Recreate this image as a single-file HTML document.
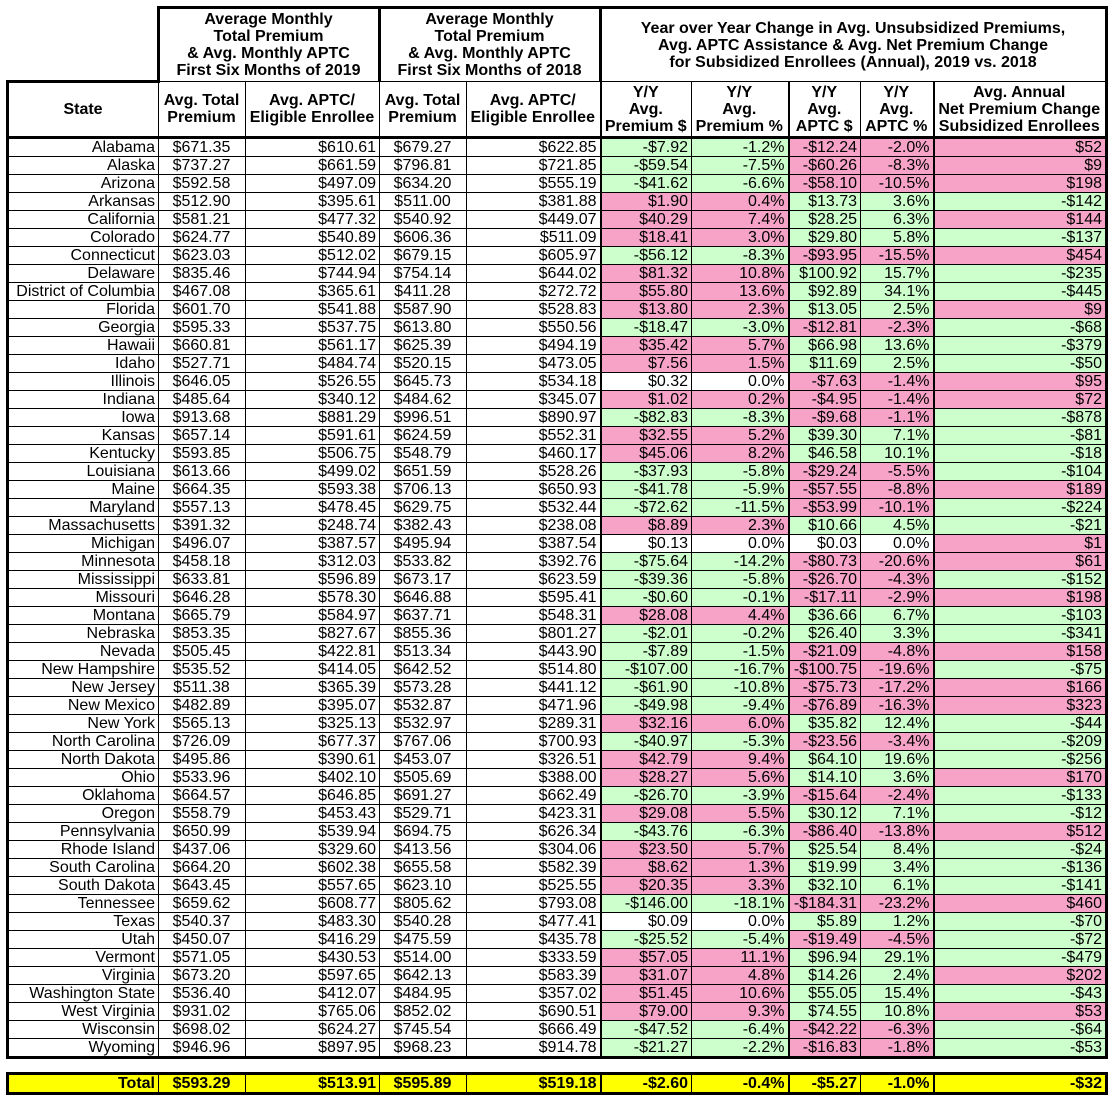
<!DOCTYPE html>
<html><head><meta charset="utf-8">
<style>
body{margin:0;width:1110px;height:1102px;background:#fff;overflow:hidden;font-family:"Liberation Sans",Arial,sans-serif;}
table{position:absolute;left:6px;border-collapse:collapse;table-layout:fixed;}
td{border:1px solid #000;padding:0 3px 0 2px;font-size:16px;line-height:17px;height:17px;white-space:nowrap;overflow:hidden;text-align:right;color:#000;}
td:nth-child(2),td:nth-child(4){text-align:center;}
.h td{font-weight:bold;text-align:center;line-height:17px;}
.h1 td{height:72px;border-top:3px solid #000;border-left:3px solid #000;border-right:3px solid #000;}
.h1 td.e{border:none;border-bottom:3px solid #000;}
.h2 td{height:53px;border-bottom:3px solid #000;}
td.L{border-left:2px solid #000}
tr td:nth-child(6),tr td:nth-child(8),tr td:nth-child(10){border-left:2px solid #000}
tr td:nth-child(1){border-left:3px solid #000}
tr td:nth-child(10){border-right:3px solid #000}
.last td{border-bottom:3px solid #000}
.pG td:nth-child(6),.pG td:nth-child(7){background:#ccffcc}
.pP td:nth-child(6),.pP td:nth-child(7){background:#f7a3c7}
.aG td:nth-child(8),.aG td:nth-child(9){background:#ccffcc}
.aP td:nth-child(8),.aP td:nth-child(9){background:#f7a3c7}
.nG td:nth-child(10){background:#ccffcc}
.nP td:nth-child(10){background:#f7a3c7}
.tot td{background:#ffff00;font-weight:bold;border-top:3px solid #000;border-bottom:3px solid #000;height:16px;}
</style></head><body>
<table style="top:6px">
<colgroup><col style="width:151px"><col style="width:87px"><col style="width:134px"><col style="width:87px"><col style="width:134px"><col style="width:91px"><col style="width:97px"><col style="width:72px"><col style="width:73px"><col style="width:173px"></colgroup>
<tr class="h h1"><td class="e"></td><td colspan="2">Average Monthly<br>Total Premium<br>&amp; Avg. Monthly APTC<br>First Six Months of 2019</td><td colspan="2">Average Monthly<br>Total Premium<br>&amp; Avg. Monthly APTC<br>First Six Months of 2018</td><td colspan="5">Year over Year Change in Avg. Unsubsidized Premiums,<br>Avg. APTC Assistance &amp; Avg. Net Premium Change<br>for Subsidized Enrollees (Annual), 2019 vs. 2018</td></tr>
<tr class="h h2"><td>State</td><td>Avg. Total<br>Premium</td><td>Avg. APTC/<br>Eligible Enrollee</td><td>Avg. Total<br>Premium</td><td>Avg. APTC/<br>Eligible Enrollee</td><td>Y/Y<br>Avg.<br>Premium $</td><td>Y/Y<br>Avg.<br>Premium %</td><td>Y/Y<br>Avg.<br>APTC $</td><td>Y/Y<br>Avg.<br>APTC %</td><td>Avg. Annual<br>Net Premium Change<br>Subsidized Enrollees</td></tr>
<tr class="pG aP nP"><td>Alabama</td><td>$671.35</td><td>$610.61</td><td>$679.27</td><td>$622.85</td><td>-$7.92</td><td>-1.2%</td><td>-$12.24</td><td>-2.0%</td><td>$52</td></tr>
<tr class="pG aP nP"><td>Alaska</td><td>$737.27</td><td>$661.59</td><td>$796.81</td><td>$721.85</td><td>-$59.54</td><td>-7.5%</td><td>-$60.26</td><td>-8.3%</td><td>$9</td></tr>
<tr class="pG aP nP"><td>Arizona</td><td>$592.58</td><td>$497.09</td><td>$634.20</td><td>$555.19</td><td>-$41.62</td><td>-6.6%</td><td>-$58.10</td><td>-10.5%</td><td>$198</td></tr>
<tr class="pP aG nG"><td>Arkansas</td><td>$512.90</td><td>$395.61</td><td>$511.00</td><td>$381.88</td><td>$1.90</td><td>0.4%</td><td>$13.73</td><td>3.6%</td><td>-$142</td></tr>
<tr class="pP aG nP"><td>California</td><td>$581.21</td><td>$477.32</td><td>$540.92</td><td>$449.07</td><td>$40.29</td><td>7.4%</td><td>$28.25</td><td>6.3%</td><td>$144</td></tr>
<tr class="pP aG nG"><td>Colorado</td><td>$624.77</td><td>$540.89</td><td>$606.36</td><td>$511.09</td><td>$18.41</td><td>3.0%</td><td>$29.80</td><td>5.8%</td><td>-$137</td></tr>
<tr class="pG aP nP"><td>Connecticut</td><td>$623.03</td><td>$512.02</td><td>$679.15</td><td>$605.97</td><td>-$56.12</td><td>-8.3%</td><td>-$93.95</td><td>-15.5%</td><td>$454</td></tr>
<tr class="pP aG nG"><td>Delaware</td><td>$835.46</td><td>$744.94</td><td>$754.14</td><td>$644.02</td><td>$81.32</td><td>10.8%</td><td>$100.92</td><td>15.7%</td><td>-$235</td></tr>
<tr class="pP aG nG"><td>District of Columbia</td><td>$467.08</td><td>$365.61</td><td>$411.28</td><td>$272.72</td><td>$55.80</td><td>13.6%</td><td>$92.89</td><td>34.1%</td><td>-$445</td></tr>
<tr class="pP aG nP"><td>Florida</td><td>$601.70</td><td>$541.88</td><td>$587.90</td><td>$528.83</td><td>$13.80</td><td>2.3%</td><td>$13.05</td><td>2.5%</td><td>$9</td></tr>
<tr class="pG aP nG"><td>Georgia</td><td>$595.33</td><td>$537.75</td><td>$613.80</td><td>$550.56</td><td>-$18.47</td><td>-3.0%</td><td>-$12.81</td><td>-2.3%</td><td>-$68</td></tr>
<tr class="pP aG nG"><td>Hawaii</td><td>$660.81</td><td>$561.17</td><td>$625.39</td><td>$494.19</td><td>$35.42</td><td>5.7%</td><td>$66.98</td><td>13.6%</td><td>-$379</td></tr>
<tr class="pP aG nG"><td>Idaho</td><td>$527.71</td><td>$484.74</td><td>$520.15</td><td>$473.05</td><td>$7.56</td><td>1.5%</td><td>$11.69</td><td>2.5%</td><td>-$50</td></tr>
<tr class="pW aP nP"><td>Illinois</td><td>$646.05</td><td>$526.55</td><td>$645.73</td><td>$534.18</td><td>$0.32</td><td>0.0%</td><td>-$7.63</td><td>-1.4%</td><td>$95</td></tr>
<tr class="pP aP nP"><td>Indiana</td><td>$485.64</td><td>$340.12</td><td>$484.62</td><td>$345.07</td><td>$1.02</td><td>0.2%</td><td>-$4.95</td><td>-1.4%</td><td>$72</td></tr>
<tr class="pG aP nG"><td>Iowa</td><td>$913.68</td><td>$881.29</td><td>$996.51</td><td>$890.97</td><td>-$82.83</td><td>-8.3%</td><td>-$9.68</td><td>-1.1%</td><td>-$878</td></tr>
<tr class="pP aG nG"><td>Kansas</td><td>$657.14</td><td>$591.61</td><td>$624.59</td><td>$552.31</td><td>$32.55</td><td>5.2%</td><td>$39.30</td><td>7.1%</td><td>-$81</td></tr>
<tr class="pP aG nG"><td>Kentucky</td><td>$593.85</td><td>$506.75</td><td>$548.79</td><td>$460.17</td><td>$45.06</td><td>8.2%</td><td>$46.58</td><td>10.1%</td><td>-$18</td></tr>
<tr class="pG aP nG"><td>Louisiana</td><td>$613.66</td><td>$499.02</td><td>$651.59</td><td>$528.26</td><td>-$37.93</td><td>-5.8%</td><td>-$29.24</td><td>-5.5%</td><td>-$104</td></tr>
<tr class="pG aP nP"><td>Maine</td><td>$664.35</td><td>$593.38</td><td>$706.13</td><td>$650.93</td><td>-$41.78</td><td>-5.9%</td><td>-$57.55</td><td>-8.8%</td><td>$189</td></tr>
<tr class="pG aP nG"><td>Maryland</td><td>$557.13</td><td>$478.45</td><td>$629.75</td><td>$532.44</td><td>-$72.62</td><td>-11.5%</td><td>-$53.99</td><td>-10.1%</td><td>-$224</td></tr>
<tr class="pP aG nG"><td>Massachusetts</td><td>$391.32</td><td>$248.74</td><td>$382.43</td><td>$238.08</td><td>$8.89</td><td>2.3%</td><td>$10.66</td><td>4.5%</td><td>-$21</td></tr>
<tr class="pW aW nP"><td>Michigan</td><td>$496.07</td><td>$387.57</td><td>$495.94</td><td>$387.54</td><td>$0.13</td><td>0.0%</td><td>$0.03</td><td>0.0%</td><td>$1</td></tr>
<tr class="pG aP nP"><td>Minnesota</td><td>$458.18</td><td>$312.03</td><td>$533.82</td><td>$392.76</td><td>-$75.64</td><td>-14.2%</td><td>-$80.73</td><td>-20.6%</td><td>$61</td></tr>
<tr class="pG aP nG"><td>Mississippi</td><td>$633.81</td><td>$596.89</td><td>$673.17</td><td>$623.59</td><td>-$39.36</td><td>-5.8%</td><td>-$26.70</td><td>-4.3%</td><td>-$152</td></tr>
<tr class="pG aP nP"><td>Missouri</td><td>$646.28</td><td>$578.30</td><td>$646.88</td><td>$595.41</td><td>-$0.60</td><td>-0.1%</td><td>-$17.11</td><td>-2.9%</td><td>$198</td></tr>
<tr class="pP aG nG"><td>Montana</td><td>$665.79</td><td>$584.97</td><td>$637.71</td><td>$548.31</td><td>$28.08</td><td>4.4%</td><td>$36.66</td><td>6.7%</td><td>-$103</td></tr>
<tr class="pG aG nG"><td>Nebraska</td><td>$853.35</td><td>$827.67</td><td>$855.36</td><td>$801.27</td><td>-$2.01</td><td>-0.2%</td><td>$26.40</td><td>3.3%</td><td>-$341</td></tr>
<tr class="pG aP nP"><td>Nevada</td><td>$505.45</td><td>$422.81</td><td>$513.34</td><td>$443.90</td><td>-$7.89</td><td>-1.5%</td><td>-$21.09</td><td>-4.8%</td><td>$158</td></tr>
<tr class="pG aP nG"><td>New Hampshire</td><td>$535.52</td><td>$414.05</td><td>$642.52</td><td>$514.80</td><td>-$107.00</td><td>-16.7%</td><td>-$100.75</td><td>-19.6%</td><td>-$75</td></tr>
<tr class="pG aP nP"><td>New Jersey</td><td>$511.38</td><td>$365.39</td><td>$573.28</td><td>$441.12</td><td>-$61.90</td><td>-10.8%</td><td>-$75.73</td><td>-17.2%</td><td>$166</td></tr>
<tr class="pG aP nP"><td>New Mexico</td><td>$482.89</td><td>$395.07</td><td>$532.87</td><td>$471.96</td><td>-$49.98</td><td>-9.4%</td><td>-$76.89</td><td>-16.3%</td><td>$323</td></tr>
<tr class="pP aG nG"><td>New York</td><td>$565.13</td><td>$325.13</td><td>$532.97</td><td>$289.31</td><td>$32.16</td><td>6.0%</td><td>$35.82</td><td>12.4%</td><td>-$44</td></tr>
<tr class="pG aP nG"><td>North Carolina</td><td>$726.09</td><td>$677.37</td><td>$767.06</td><td>$700.93</td><td>-$40.97</td><td>-5.3%</td><td>-$23.56</td><td>-3.4%</td><td>-$209</td></tr>
<tr class="pP aG nG"><td>North Dakota</td><td>$495.86</td><td>$390.61</td><td>$453.07</td><td>$326.51</td><td>$42.79</td><td>9.4%</td><td>$64.10</td><td>19.6%</td><td>-$256</td></tr>
<tr class="pP aG nP"><td>Ohio</td><td>$533.96</td><td>$402.10</td><td>$505.69</td><td>$388.00</td><td>$28.27</td><td>5.6%</td><td>$14.10</td><td>3.6%</td><td>$170</td></tr>
<tr class="pG aP nG"><td>Oklahoma</td><td>$664.57</td><td>$646.85</td><td>$691.27</td><td>$662.49</td><td>-$26.70</td><td>-3.9%</td><td>-$15.64</td><td>-2.4%</td><td>-$133</td></tr>
<tr class="pP aG nG"><td>Oregon</td><td>$558.79</td><td>$453.43</td><td>$529.71</td><td>$423.31</td><td>$29.08</td><td>5.5%</td><td>$30.12</td><td>7.1%</td><td>-$12</td></tr>
<tr class="pG aP nP"><td>Pennsylvania</td><td>$650.99</td><td>$539.94</td><td>$694.75</td><td>$626.34</td><td>-$43.76</td><td>-6.3%</td><td>-$86.40</td><td>-13.8%</td><td>$512</td></tr>
<tr class="pP aG nG"><td>Rhode Island</td><td>$437.06</td><td>$329.60</td><td>$413.56</td><td>$304.06</td><td>$23.50</td><td>5.7%</td><td>$25.54</td><td>8.4%</td><td>-$24</td></tr>
<tr class="pP aG nG"><td>South Carolina</td><td>$664.20</td><td>$602.38</td><td>$655.58</td><td>$582.39</td><td>$8.62</td><td>1.3%</td><td>$19.99</td><td>3.4%</td><td>-$136</td></tr>
<tr class="pP aG nG"><td>South Dakota</td><td>$643.45</td><td>$557.65</td><td>$623.10</td><td>$525.55</td><td>$20.35</td><td>3.3%</td><td>$32.10</td><td>6.1%</td><td>-$141</td></tr>
<tr class="pG aP nP"><td>Tennessee</td><td>$659.62</td><td>$608.77</td><td>$805.62</td><td>$793.08</td><td>-$146.00</td><td>-18.1%</td><td>-$184.31</td><td>-23.2%</td><td>$460</td></tr>
<tr class="pW aG nG"><td>Texas</td><td>$540.37</td><td>$483.30</td><td>$540.28</td><td>$477.41</td><td>$0.09</td><td>0.0%</td><td>$5.89</td><td>1.2%</td><td>-$70</td></tr>
<tr class="pG aP nG"><td>Utah</td><td>$450.07</td><td>$416.29</td><td>$475.59</td><td>$435.78</td><td>-$25.52</td><td>-5.4%</td><td>-$19.49</td><td>-4.5%</td><td>-$72</td></tr>
<tr class="pP aG nG"><td>Vermont</td><td>$571.05</td><td>$430.53</td><td>$514.00</td><td>$333.59</td><td>$57.05</td><td>11.1%</td><td>$96.94</td><td>29.1%</td><td>-$479</td></tr>
<tr class="pP aG nP"><td>Virginia</td><td>$673.20</td><td>$597.65</td><td>$642.13</td><td>$583.39</td><td>$31.07</td><td>4.8%</td><td>$14.26</td><td>2.4%</td><td>$202</td></tr>
<tr class="pP aG nG"><td>Washington State</td><td>$536.40</td><td>$412.07</td><td>$484.95</td><td>$357.02</td><td>$51.45</td><td>10.6%</td><td>$55.05</td><td>15.4%</td><td>-$43</td></tr>
<tr class="pP aG nP"><td>West Virginia</td><td>$931.02</td><td>$765.06</td><td>$852.02</td><td>$690.51</td><td>$79.00</td><td>9.3%</td><td>$74.55</td><td>10.8%</td><td>$53</td></tr>
<tr class="pG aP nG"><td>Wisconsin</td><td>$698.02</td><td>$624.27</td><td>$745.54</td><td>$666.49</td><td>-$47.52</td><td>-6.4%</td><td>-$42.22</td><td>-6.3%</td><td>-$64</td></tr>
<tr class="pG aP nG last"><td>Wyoming</td><td>$946.96</td><td>$897.95</td><td>$968.23</td><td>$914.78</td><td>-$21.27</td><td>-2.2%</td><td>-$16.83</td><td>-1.8%</td><td>-$53</td></tr>
</table>
<table style="top:1072px">
<colgroup><col style="width:151px"><col style="width:87px"><col style="width:134px"><col style="width:87px"><col style="width:134px"><col style="width:91px"><col style="width:97px"><col style="width:72px"><col style="width:73px"><col style="width:173px"></colgroup>
<tr class="tot"><td>Total</td><td>$593.29</td><td>$513.91</td><td>$595.89</td><td>$519.18</td><td>-$2.60</td><td>-0.4%</td><td>-$5.27</td><td>-1.0%</td><td>-$32</td></tr>
</table>
</body></html>
